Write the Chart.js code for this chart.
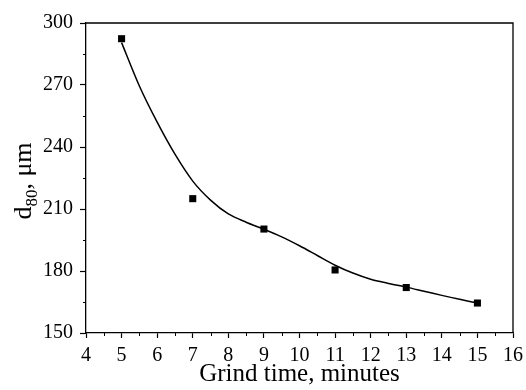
<!DOCTYPE html>
<html>
<head>
<meta charset="utf-8">
<script src="https://cdn.jsdelivr.net/npm/chart.js@4/dist/chart.umd.min.js"></script>
<style>
  html, body { margin: 0; padding: 0; background: #fff; }
  #wrap { width: 526px; height: 390px; }
</style>
</head>
<body>
<div id="wrap"><canvas id="grindChart" width="526" height="390"></canvas></div>
<script>
// measured points
const grindTimes = [5, 7, 9, 11, 13, 15];
const d80Values = [292.4, 215, 200.3, 180.5, 172, 164.5];

// fitted curve
const fitTimes = [5, 5.5, 6, 6.5, 7, 7.5, 8, 8.5, 9, 9.5, 10, 10.5, 11, 11.5, 12, 12.5, 13, 13.5, 14, 14.5, 15];
const fitValues = [290.5, 269.5, 252, 236.5, 223.5, 214.3, 207.6, 203.6, 200.2, 196.5, 192.2, 187.5, 182.8, 179, 176, 174, 172.2, 170.2, 168.2, 166.3, 164.5];

const xMin = 4, xMax = 16, xStep = 1;
const yMin = 150, yMax = 300, yStep = 30;

const serif = "'Liberation Serif', 'Times New Roman', serif";

// frame + minor ticks + y title with subscript
const framePlugin = {
  id: "frame",
  afterDraw(chart) {
    const ctx = chart.ctx;
    const a = chart.chartArea;
    const xs = chart.scales.x, ys = chart.scales.y;
    ctx.save();
    ctx.strokeStyle = "#000";
    ctx.lineWidth = 1.3;
    ctx.beginPath();
    ctx.moveTo(a.left, a.top);
    ctx.lineTo(a.right, a.top);
    ctx.lineTo(a.right, a.bottom);
    ctx.stroke();

    ctx.lineWidth = 1;
    ctx.beginPath();
    for (let v = xMin + xStep / 2; v < xMax; v += xStep) {
      const px = Math.round(xs.getPixelForValue(v)) + 0.5;
      ctx.moveTo(px, a.bottom);
      ctx.lineTo(px, a.bottom + 3);
    }
    for (let v = yMin + yStep / 2; v < yMax; v += yStep) {
      const py = Math.round(ys.getPixelForValue(v)) + 0.5;
      ctx.moveTo(a.left, py);
      ctx.lineTo(a.left - 3, py);
    }
    ctx.stroke();

    // y axis title: d80, μm
    ctx.translate(31, 181);
    ctx.rotate(-Math.PI / 2);
    ctx.fillStyle = "#000";
    ctx.textBaseline = "alphabetic";
    const big = "26px " + serif, small = "17px " + serif;
    ctx.font = big;
    const wd = ctx.measureText("d").width;
    const wRest = ctx.measureText(", \u03bcm").width;
    ctx.font = small;
    const wSub = ctx.measureText("80").width;
    let x = -(wd + wSub + wRest) / 2;
    ctx.font = big;
    ctx.fillText("d", x, 0);
    x += wd;
    ctx.font = small;
    ctx.fillText("80", x, 6);
    x += wSub;
    ctx.font = big;
    ctx.fillText(", \u03bcm", x, 0);
    ctx.restore();
  }
};

new Chart(document.getElementById("grindChart"), {
  type: "scatter",
  data: {
    datasets: [
      {
        label: "fit",
        data: fitTimes.map((t, i) => ({ x: t, y: fitValues[i] })),
        showLine: true,
        borderColor: "#000",
        borderWidth: 1.5,
        pointRadius: 0,
        tension: 0.3,
        fill: false
      },
      {
        label: "d80",
        data: grindTimes.map((t, i) => ({ x: t, y: d80Values[i] })),
        showLine: false,
        pointStyle: "rect",
        pointRadius: 5,
        pointHoverRadius: 5,
        backgroundColor: "#000",
        borderColor: "#000",
        borderWidth: 0
      }
    ]
  },
  options: {
    responsive: false,
    animation: false,
    devicePixelRatio: 1,
    layout: { padding: { top: 23, right: 13, left: 0, bottom: 0 } },
    plugins: {
      legend: { display: false },
      tooltip: { enabled: false }
    },
    scales: {
      x: {
        type: "linear",
        min: xMin,
        max: xMax,
        ticks: {
          stepSize: xStep,
          color: "#000",
          padding: 6,
          maxRotation: 0,
          font: { family: serif, size: 20 }
        },
        grid: {
          drawOnChartArea: false,
          drawTicks: true,
          tickLength: 5,
          tickColor: "#000",
          tickWidth: 1.2
        },
        border: { display: true, color: "#000", width: 1.3 },
        title: {
          display: true,
          text: "Grind time, minutes",
          color: "#000",
          font: { family: serif, size: 25, lineHeight: 1.1 },
          padding: { top: 0, bottom: 2 }
        },
        afterFit(scale) {
          scale.height = 57;
          scale.paddingLeft = 0;
          scale.paddingRight = 0;
        }
      },
      y: {
        type: "linear",
        min: yMin,
        max: yMax,
        ticks: {
          stepSize: yStep,
          color: "#000",
          padding: 7,
          font: { family: serif, size: 20 }
        },
        grid: {
          drawOnChartArea: false,
          drawTicks: true,
          tickLength: 6,
          tickColor: "#000",
          tickWidth: 1.2
        },
        border: { display: true, color: "#000", width: 1.3 },
        afterFit(scale) {
          scale.width = 86;
          scale.paddingTop = 0;
          scale.paddingBottom = 0;
        }
      }
    }
  },
  plugins: [framePlugin]
});
</script>
</body>
</html>
